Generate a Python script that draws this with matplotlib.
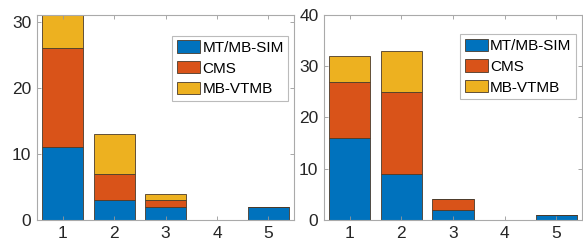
import matplotlib.pyplot as plt
import numpy as np

plt.rcParams['font.family'] = ['Liberation Sans', 'DejaVu Sans']

# categories and stacked series for both panels
categories = [1, 2, 3, 4, 5]
series_names = ['MT/MB-SIM', 'CMS', 'MB-VTMB']
colors = ['#0072BD', '#D95319', '#EDB120']

left_sim = [11, 3, 2, 0, 2]
left_cms = [15, 4, 1, 0, 0]
left_vtmb = [5, 6, 1, 0, 0]

right_sim = [16, 9, 2, 0, 1]
right_cms = [11, 16, 2, 0, 0]
right_vtmb = [5, 8, 0, 0, 0]

left_ticks = [0, 10, 20, 30]
right_ticks = [0, 10, 20, 30, 40]

fig = plt.figure(figsize=(5.83, 2.41), dpi=100)
ax1 = fig.add_axes([0.0635, 0.0871, 0.441, 0.851])
ax2 = fig.add_axes([0.5557, 0.0871, 0.4425, 0.851])


def stacked(ax, data, ylim, yticks, legend_anchor):
    bottom = np.zeros(len(categories))
    for vals, name, c in zip(data, series_names, colors):
        ax.bar(categories, vals, width=0.8, bottom=bottom, color=c,
               edgecolor='#4a3a2a', linewidth=0.6, label=name)
        bottom += np.array(vals)
    ax.set_xlim(0.5, 5.5)
    ax.set_ylim(*ylim)
    ax.set_xticks(categories)
    ax.set_yticks(yticks)
    ax.tick_params(direction='in', top=True, right=True, length=3,
                   width=0.6, color='#999999', labelsize=12.5,
                   labelcolor='#262626', pad=4)
    for s in ax.spines.values():
        s.set_color('#aaaaaa')
        s.set_linewidth(0.8)
    leg = ax.legend(loc='upper right', bbox_to_anchor=legend_anchor,
                    fontsize=11, frameon=True, fancybox=False,
                    handlelength=1.5, handleheight=0.85, handletextpad=0.15,
                    labelspacing=0.42, borderpad=0.3, borderaxespad=0)
    leg.get_frame().set_edgecolor('#aaaaaa')
    leg.get_frame().set_linewidth(0.8)


stacked(ax1, [left_sim, left_cms, left_vtmb], (0, 31), left_ticks, (0.977, 0.898))
stacked(ax2, [right_sim, right_cms, right_vtmb], (0, 40), right_ticks, (0.977, 0.907))

fig.savefig('out.png', dpi=100)
